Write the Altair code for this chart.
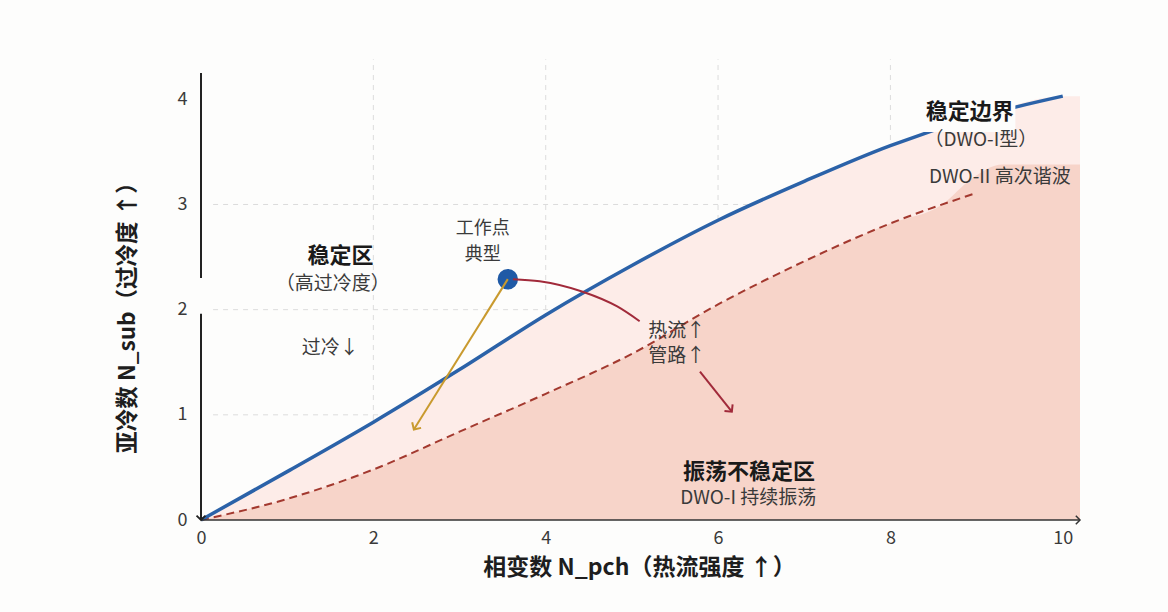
import altair as alt
import pandas as pd

# ---- data ----
blue_x = [0, 1, 2, 3, 4, 5, 6, 7, 8, 9, 10]
blue_y = [0, 0.46, 0.93, 1.43, 1.95, 2.42, 2.85, 3.22, 3.56, 3.83, 4.03]
light_x = blue_x + [10.2]
light_y = blue_y + [4.03]

dash_x = [0, 1, 2, 3, 4, 5, 6, 7, 8, 9]
dash_y = [0, 0.2, 0.48, 0.84, 1.2, 1.58, 2.05, 2.46, 2.82, 3.11]
dark_x = [0, 1, 2, 3, 4, 5, 6, 7, 8, 8.6, 8.95, 9.3, 10.2]
dark_y = [0, 0.2, 0.48, 0.84, 1.2, 1.58, 2.05, 2.46, 2.82, 3.0, 3.25, 3.38, 3.38]

grid_x = [2, 4, 6, 8]
grid_y = [1, 2, 3]
x_ticks = [0, 2, 4, 6, 8, 10]
y_ticks = [0, 1, 2, 3, 4]

work_pt = {"x": [3.56], "y": [2.29]}
orange_x = [3.56, 2.47]
orange_y = [2.29, 0.86]
red_x = [3.62, 3.93, 4.43, 4.83, 5.09, 5.79, 6.16]
red_y = [2.29, 2.27, 2.17, 2.03, 1.89, 1.41, 1.03]
red_seg = [1, 1, 1, 1, 1, 2, 2]

XD = [0, 10.2]
YD = [0, 4.25]

BLUE = "#2b62a8"
DASH = "#a3392f"
LIGHT = "#fdece8"
DARK = "#f7d4c9"
ORANGE = "#c99a2e"
RED = "#a12a3a"
FONT = "Noto Sans CJK SC"

x_axis = alt.Axis(values=x_ticks, format="d", domain=False, ticks=False, grid=False,
                  labelFlush=False,
                  labelFontSize=18, labelColor="#3a3a3a", labelPadding=9,
                  labelFont=FONT, title="相变数 N_pch（热流强度 ↑）",
                  titleFont=FONT, titleFontSize=23, titleFontWeight="bold",
                  titleColor="#1e1e1e", titlePadding=9, titleX=438)
y_axis = alt.Axis(values=y_ticks, format="d", domain=False, ticks=False, grid=False,
                  labelFlush=False,
                  labelFontSize=18, labelColor="#3a3a3a", labelPadding=14,
                  labelFont=FONT, title="亚冷数 N_sub（过冷度 ↑）",
                  titleFont=FONT, titleFontSize=22.5, titleFontWeight="bold",
                  titleColor="#1e1e1e", titlePadding=38, titleY=239)


def X(field="x"):
    return alt.X(f"{field}:Q", scale=alt.Scale(domain=XD, nice=False, zero=False),
                 axis=x_axis)


def Y(field="y"):
    return alt.Y(f"{field}:Q", scale=alt.Scale(domain=YD, nice=False, zero=False),
                 axis=y_axis)


df_light = pd.DataFrame({"x": light_x, "y": light_y})
df_dark = pd.DataFrame({"x": dark_x, "y": dark_y})
df_blue = pd.DataFrame({"x": blue_x, "y": blue_y})
df_dash = pd.DataFrame({"x": dash_x, "y": dash_y})

# grid
gx = alt.Chart(pd.DataFrame({"x": grid_x})).mark_rule(
    color="#dcdcdc", strokeDash=[5, 5], strokeWidth=1
).encode(x=X("x"), y=alt.datum(0), y2=alt.datum(4.38))
gy = alt.Chart(pd.DataFrame({"y": grid_y})).mark_rule(
    color="#dcdcdc", strokeDash=[5, 5], strokeWidth=1
).encode(y=Y("y"), x=alt.datum(0.14), x2=alt.datum(10.2))

light = alt.Chart(df_light).mark_area(color=LIGHT, interpolate="monotone").encode(
    x=X(), y=Y())
dark = alt.Chart(df_dark).mark_area(color=DARK, interpolate="monotone").encode(
    x=X(), y=Y())
dash = alt.Chart(df_dash).mark_line(color=DASH, strokeDash=[8, 5], strokeWidth=2,
                                    interpolate="monotone").encode(x=X(), y=Y())
blue = alt.Chart(df_blue).mark_line(color=BLUE, strokeWidth=3.5,
                                    interpolate="monotone").encode(x=X(), y=Y())

# label background hiding the boundary line behind "稳定边界"
label_bg = alt.Chart(pd.DataFrame({"x": [8.3], "x2": [9.45], "y": [3.69], "y2": [4.1]})).mark_rect(
    color="#fdfdfc").encode(x=X(), x2="x2:Q", y=Y(), y2="y2:Q")

# axis lines
axis_x = alt.Chart(pd.DataFrame({"x": [0], "x2": [10.2]})).mark_rule(
    color="#333333", strokeWidth=1.5).encode(x=X(), x2="x2:Q", y=alt.datum(0))
axis_y = alt.Chart(pd.DataFrame({"y": [2.3, 0], "y2": [4.25, 1.96]})).mark_rule(
    color="#222222", strokeWidth=2).encode(y=Y(), y2="y2:Q", x=alt.datum(0))

CHEV = "M-1,1L0,0L1,1"
arr_x_axis = alt.Chart(pd.DataFrame({"x": [10.2], "y": [0]})).mark_point(
    shape=CHEV, filled=False, color="#333333", strokeWidth=1.5, size=70, angle=90,
    opacity=1).encode(x=X(), y=Y())
arr_y_axis = alt.Chart(pd.DataFrame({"x": [0], "y": [0]})).mark_point(
    shape=CHEV, filled=False, color="#222222", strokeWidth=1.8, size=80, angle=180,
    opacity=1).encode(x=X(), y=Y())

# working point and arrows
pt = alt.Chart(pd.DataFrame(work_pt)).mark_circle(color="#1f5aa6", size=420,
                                                  opacity=1).encode(x=X(), y=Y())
orange = alt.Chart(pd.DataFrame({"x": orange_x, "y": orange_y})).mark_line(
    color=ORANGE, strokeWidth=2).encode(x=X(), y=Y())
orange_head = alt.Chart(pd.DataFrame({"x": orange_x[1:], "y": orange_y[1:]})).mark_point(
    shape=CHEV, filled=False, color=ORANGE, strokeWidth=2, size=110, angle=212,
    opacity=1).encode(x=X(), y=Y())
red = alt.Chart(pd.DataFrame({"x": red_x, "y": red_y, "s": red_seg})).mark_line(
    color=RED, strokeWidth=2, interpolate="monotone").encode(
    x=X(), y=Y(), detail="s:N", order="x:Q")
red_head = alt.Chart(pd.DataFrame({"x": red_x[-1:], "y": red_y[-1:]})).mark_point(
    shape=CHEV, filled=False, color=RED, strokeWidth=2, size=110, angle=141,
    opacity=1).encode(x=X(), y=Y())

# annotations
bold_txt = pd.DataFrame({
    "x": [1.62, 8.92, 6.36],
    "y": [2.51, 3.88, 0.46],
    "t": ["稳定区", "稳定边界", "振荡不稳定区"],
})
norm_txt = pd.DataFrame({
    "x": [1.53, 1.50, 5.52, 5.52, 9.05, 9.27, 6.35],
    "y": [2.24, 1.64, 1.80, 1.56, 3.61, 3.26, 0.21],
    "t": ["（高过冷度）", "过冷↓", "热流↑", "管路↑",
          "（DWO-I型）", "DWO-II 高次谐波", "DWO-I 持续振荡"],
})
work_txt = pd.DataFrame({
    "x": [3.27, 3.27],
    "y": [2.77, 2.52],
    "t": ["工作点", "典型"],
})
t_bold = alt.Chart(bold_txt).mark_text(font=FONT, fontSize=22, fontWeight="bold",
                                       color="#1a1a1a").encode(x=X(), y=Y(), text="t:N")
t_norm = alt.Chart(norm_txt).mark_text(font=FONT, fontSize=19,
                                       color="#3a3a3a").encode(x=X(), y=Y(), text="t:N")
t_work = alt.Chart(work_txt).mark_text(font=FONT, fontSize=18,
                                       color="#3a3a3a").encode(x=X(), y=Y(), text="t:N")

chart = alt.layer(
    gx, gy, light, dark, dash, blue, label_bg, axis_x, axis_y, arr_x_axis, arr_y_axis,
    pt, orange, orange_head, red, red_head, t_bold, t_norm, t_work
).properties(
    width=879, height=447,
    autosize=alt.AutoSizeParams(type="none"),
    padding={"left": 201, "top": 73, "right": 88, "bottom": 92},
    background="#fdfdfc",
).configure_view(stroke=None)

chart.save("out.html", embed_options={"renderer": "svg", "actions": False})
